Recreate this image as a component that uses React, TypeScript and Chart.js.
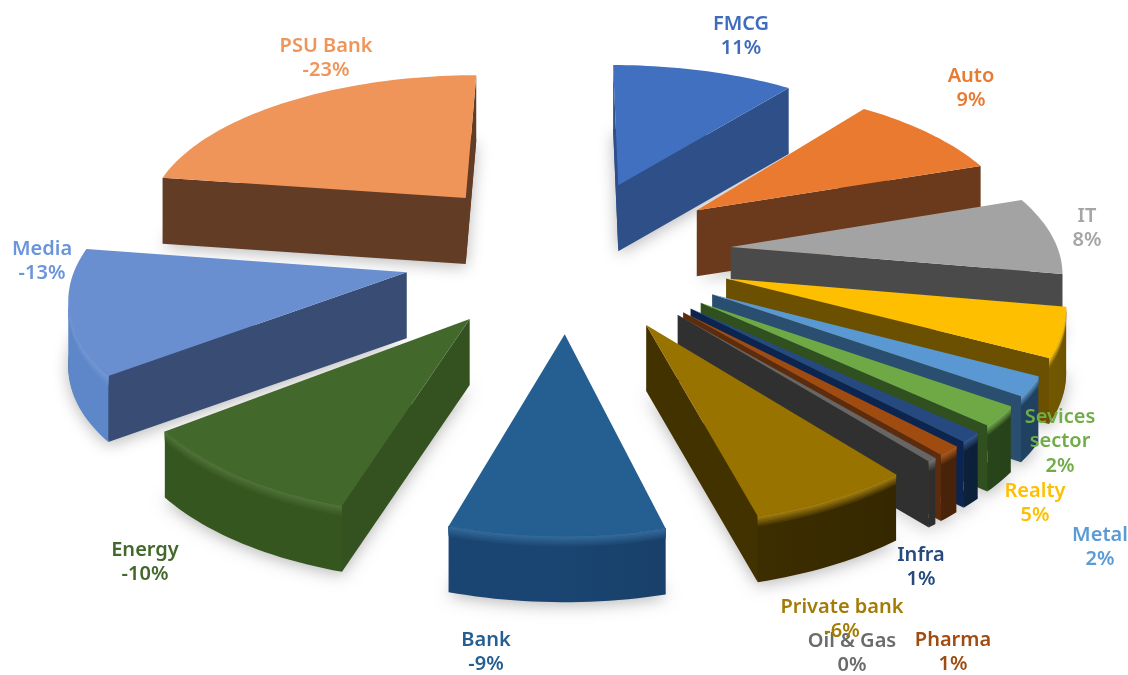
import React, { useEffect, useRef } from "react";
import { Chart, registerables } from "chart.js";

Chart.register(...registerables);

const categories = ["FMCG", "Auto", "IT", "Realty", "Metal", "Sevices sector", "Infra", "Pharma", "Oil & Gas", "Private bank", "Bank", "Energy", "Media", "PSU Bank"];
const percentLabels = ["11%", "9%", "8%", "5%", "2%", "2%", "1%", "1%", "0%", "-6%", "-9%", "-10%", "-13%", "-23%"];
const sliceSizes = [10.5, 9.2, 8.1, 5, 2, 2, 1, 1, 0.4, 6.7, 8.8, 9.9, 12.8, 22.6];

const topColors = ["#4270c0", "#e97a30", "#a3a3a3", "#fdbf00", "#5a98d3", "#6ea945", "#264a80", "#a04c10", "#666666", "#997300", "#255e91", "#43682b", "#6a8fd0", "#ef955a"];
const wallColors = ["#2f4f88", "#6b3a1c", "#4a4a4a", "#6a5000", "#2a4e70", "#30501f", "#0c2450", "#5c2c0c", "#303030", "#423200", "#1b4570", "#33521f", "#384c74", "#623c24"];
const rimColors = ["#2f4f88", "#6b3a1c", "#4a4a4a", "#a07a00", "#2c5a84", "#345a22", "#112a4c", "#5c2c0c", "#3a3a3a", "#423200", "#1a4572", "#35561f", "#5d87c8", "#623c24"];
const labelColors = ["#3f6cbd", "#e97a30", "#a5a5a5", "#fdbf00", "#5a9bd5", "#70ad47", "#264a80", "#a04c10", "#6b6b6b", "#a37c08", "#255e91", "#43682b", "#6a94dc", "#ef955a"];
const labelLines: string[][] = [["FMCG"], ["Auto"], ["IT"], ["Realty"], ["Metal"], ["Sevices", "sector"], ["Infra"], ["Pharma"], ["Oil & Gas"], ["Private bank"], ["Bank"], ["Energy"], ["Media"], ["PSU Bank"]];
// Anchor (centre x, first-line centre y) for each label.
const labelAnchors: [number, number][] = [[741, 24], [971, 76], [1087, 216], [1035, 491], [1100, 535], [1060, 417], [921, 555], [953, 640], [852, 641], [842, 607], [486, 640], [145, 550], [42, 249], [326, 46]];

const CX = 568, CY = 253, SCALE_X = 328, SCALE_Y = 152, PERSPECTIVE_X = 0.12, PERSPECTIVE_Y = 0.13, DEPTH = 66;
const EXPLODE_OFFSET = 135;

type Pt = [number, number];
function project(X: number, Y: number, z = 0): Pt {
  return [CX + (X * SCALE_X) / (1 - PERSPECTIVE_X * Y), CY + (Y * SCALE_Y) / (1 - PERSPECTIVE_Y * Y) + z];
}
function hex(c: string) { return [1, 3, 5].map((i) => parseInt(c.slice(i, i + 2), 16)); }
function mix(a: string, b: string, t: number) {
  const A = hex(a), B = hex(b);
  return "#" + A.map((v, i) => Math.round(v + (B[i] - v) * t).toString(16).padStart(2, "0")).join("");
}
function poly(ctx: CanvasRenderingContext2D, pts: Pt[], color: any) {
  ctx.beginPath();
  pts.forEach((p, i) => (i ? ctx.lineTo(p[0], p[1]) : ctx.moveTo(p[0], p[1])));
  ctx.closePath();
  ctx.fillStyle = color;
  ctx.fill();
}

const pie3d = {
  id: "pie3d",
  beforeDatasetsDraw(chart: any) {
    const ctx: CanvasRenderingContext2D = chart.ctx;
    const arcs = chart.getDatasetMeta(0).data.map((arc: any, i: number) => {
      const mid = (arc.startAngle + arc.endAngle) / 2;
      return { arc, i, mid, e: arc.options.offset / arc.outerRadius };
    });
    arcs.sort((a: any, b: any) => Math.sin(a.mid) - Math.sin(b.mid));
    ctx.save();
    for (const { arc, i, mid, e } of arcs) {
      const ax = e * Math.cos(mid), ay = e * Math.sin(mid);
      const steps = Math.max(4, Math.ceil((arc.endAngle - arc.startAngle) * 40));
      const rim: { a: number; x: number; y: number }[] = [];
      for (let k = 0; k <= steps; k++) {
        const a = arc.startAngle + ((arc.endAngle - arc.startAngle) * k) / steps;
        rim.push({ a, x: ax + Math.cos(a), y: ay + Math.sin(a) });
      }
      const outline = [{ x: ax, y: ay }, ...rim];
      // soft ground shadow
      ctx.save();
      ctx.shadowColor = "rgba(0,0,0,0.28)";
      ctx.shadowBlur = 16;
      ctx.shadowOffsetY = 5;
      poly(ctx, outline.map((p) => project(p.x, p.y, DEPTH - 2)), wallColors[i]);
      ctx.restore();

      // radial walls
      const first = rim[0], last = rim[rim.length - 1];
      const apex = { x: ax, y: ay };
      for (const [p, q] of [[apex, first], [last, apex]]) {
        const a = project(p.x, p.y), b = project(q.x, q.y);
        if (b[0] - a[0] < 0) poly(ctx, [a, b, project(q.x, q.y, DEPTH), project(p.x, p.y, DEPTH)], wallColors[i]);
      }
      // visible part of the outer rim
      const vis = rim.filter((p, k) => {
        const n = rim[k + 1] || null, b = rim[k - 1] || null;
        const dn = n ? project(n.x, n.y)[0] - project(p.x, p.y)[0] < 0 : false;
        const db = b ? project(p.x, p.y)[0] - project(b.x, b.y)[0] < 0 : false;
        return dn || db;
      });
      if (vis.length > 1) {
        const xs = vis.map((p) => project(p.x, p.y)[0]);
        const x0 = Math.min(...xs), x1 = Math.max(...xs);
        const colorAt = (p: any) => mix(rimColors[i], "#000000", Math.max(0, Math.cos(p.a)) * 0.32);
        const gradient = (fn: (c: string) => string) => {
          const g = ctx.createLinearGradient(x0, 0, Math.max(x1, x0 + 1), 0);
          vis.forEach((p, k) => {
            g.addColorStop(Math.min(1, Math.max(0, (xs[k] - x0) / Math.max(1, x1 - x0))), fn(colorAt(p)));
          });
          return g;
        };
        const strip = (z: number) => [
          ...vis.map((p) => project(p.x, p.y)),
          ...vis.slice().reverse().map((p) => project(p.x, p.y, z)),
        ] as Pt[];
        poly(ctx, strip(DEPTH), gradient((c) => c));
        [[10, 0.2], [8, 0.4], [6, 0.6], [4, 0.8], [2, 1]].forEach(([z, t]) => {
          poly(ctx, strip(z), gradient((c) => mix(c, mix(topColors[i], "#ffffff", 0.06), t)));
        });
      }
      // top face
      poly(ctx, outline.map((p) => project(p.x, p.y)), topColors[i]);
    }
    // labels
    ctx.textAlign = "center";
    ctx.textBaseline = "middle";
    ctx.font = '600 20px "Noto Sans"';
    categories.forEach((_, i) => {
      const [x, y] = labelAnchors[i];
      ctx.fillStyle = labelColors[i];
      const lines = [...labelLines[i], percentLabels[i]];
      lines.forEach((t, n) => ctx.fillText(t, x, y + n * 24.5));
    });
    ctx.restore();
    return false;
  },
};

export default function App() {
  const ref = useRef<HTMLCanvasElement>(null);
  useEffect(() => {
    const chart = new Chart(ref.current!, {
      type: "pie",
      data: {
        labels: categories,
        datasets: [{ data: sliceSizes, backgroundColor: topColors, offset: EXPLODE_OFFSET, borderWidth: 0 }],
      },
      options: {
        responsive: false,
        animation: false,
        devicePixelRatio: 1,
        layout: { padding: 0 },
        plugins: { legend: { display: false }, tooltip: { enabled: false } },
      },
      plugins: [pie3d],
    } as any);
    return () => chart.destroy();
  }, []);
  return (
    <div style={{ position: "absolute", left: 0, top: 0, width: 1128, height: 675, background: "#fff" }}>
      <canvas ref={ref} width={1128} height={675} style={{ display: "block", filter: "blur(0.4px)" }} />
    </div>
  );
}
